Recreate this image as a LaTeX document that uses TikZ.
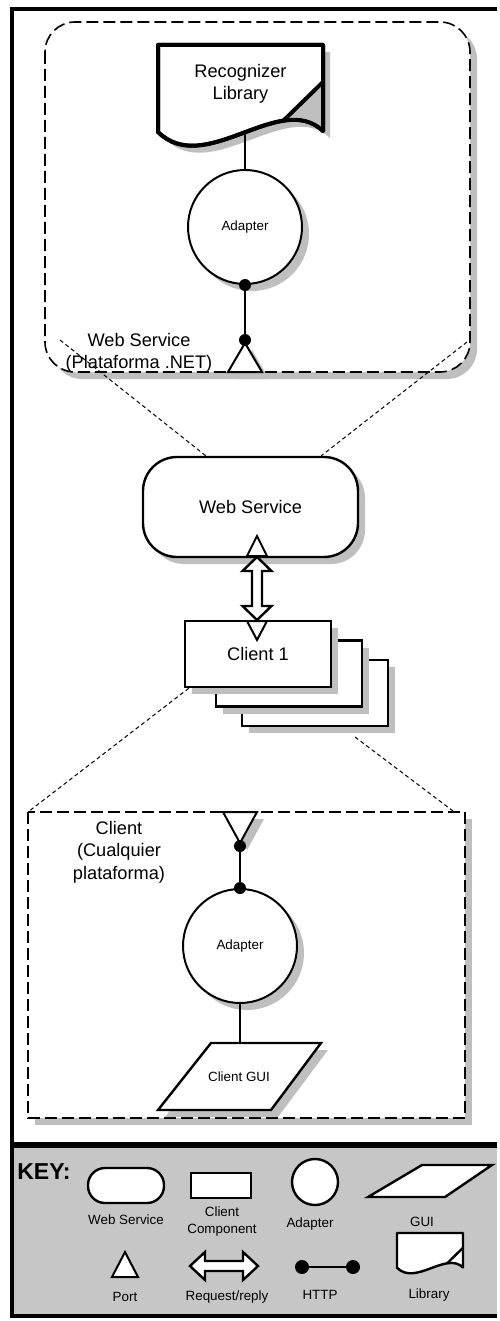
\documentclass[tikz,border=0pt]{standalone}
\usepackage{fontspec}
\setmainfont{Liberation Sans}
\usetikzlibrary{shadows}
\newcommand{\biglabel}{\fontsize{9.1}{11.2}\selectfont}
\newcommand{\smalllabel}{\fontsize{6.7}{8.3}\selectfont}

\begin{document}
\begin{tikzpicture}[
  x=0.5pt, y=-0.5pt,
  castshadow/.style={drop shadow={shadow xshift=3.5pt, shadow yshift=-3.5pt, fill=gray!50, opacity=1}},
  wsbox/.style={draw, line width=1.2pt, fill=white, rounded corners=17pt, minimum width=107.5pt, minimum height=50pt, font=\biglabel, castshadow},
  clientbox/.style={draw, line width=1.2pt, fill=white, minimum width=73pt, minimum height=33pt, font=\biglabel, castshadow},
  adapter/.style={draw, circle, line width=1pt, fill=white, minimum size=57pt, inner sep=0pt, font=\smalllabel, castshadow},
  httpdot/.style={circle, fill=black, inner sep=0pt, minimum size=6pt},
  portshape/.style={draw, line width=1pt, fill=white, line join=miter},
  link/.style={line width=1pt},
  libshape/.style={draw, line width=2pt, fill=white, line join=round},
  container/.style={draw, line width=0.8pt, dash pattern=on 6pt off 2.5pt, fill=white, castshadow},
  zoomline/.style={line width=0.5pt, dash pattern=on 2pt off 1.5pt},
  lab/.style={font=\biglabel, align=center},
  keylab/.style={font=\smalllabel, align=center}
]
\useasboundingbox (0,0) rectangle (499,1321);
\fill[white] (0,0) rectangle (499,1321);

% ---------- Upper frame: the web service side ----------
\draw[container, rounded corners=15pt] (45,22) rectangle (470,372);

% recognizer library
\draw[libshape, castshadow] (158,45) -- (323,45) -- (323,131) .. controls (280,90) and (205,178) .. (158,132) -- cycle;
\begin{scope}
  \clip (158,45) -- (323,45) -- (323,131) .. controls (280,90) and (205,178) .. (158,132) -- cycle;
  \fill[gray!50] (323,82) -- (283,121) -- (283,170) -- (340,170) -- (340,82) -- cycle;
\end{scope}
\draw[line width=2pt, line join=round] (158,45) -- (323,45) -- (323,131) .. controls (280,90) and (205,178) .. (158,132) -- cycle;
\draw[line width=2pt] (323,82) -- (283,121);
\node[lab] (reclib) at (240.5,84) {Recognizer\\Library};
\coordinate (libfoot) at (245,134);

% adapter and its port
\node[adapter] (wsadapter) at (245,227) {Adapter};
\draw[link] (libfoot) -- (wsadapter.north);
\draw[portshape, castshadow] (245,343) -- (262,372) -- (228,372) -- cycle;
\node[httpdot] (wsdotA) at (wsadapter.south) {};
\node[httpdot] (wsdotB) at (245,340) {};
\draw[link] (wsdotA) -- (wsdotB);
\node[lab] (wslabel) at (139,353) {Web Service\\(Plataforma .NET)};

% ---------- Middle: web service and clients ----------
\node[wsbox] (ws) at (250.5,507) {Web Service};
\coordinate (zoomTL) at (60,340);
\coordinate (zoomTR) at (467,342);
\draw[zoomline] (zoomTL) -- ([xshift=32pt]ws.north west);
\draw[zoomline] (zoomTR) -- ([xshift=-19pt]ws.north east);
\draw[portshape] (257,536) -- (267,556) -- (247,556) -- cycle;

% stacked clients
\node[clientbox] (client3) at (315,693) {};
\node[clientbox] (client2) at (289,673.5) {};
\node[clientbox] (client1) at (258,654) {Client 1};
\draw[portshape] (247,621) -- (267,621) -- (257,640) -- cycle;

% request/reply
\draw[line width=1.2pt, fill=white, line join=miter] (257,557) -- (271.5,571) -- (262,571) -- (262,606) -- (271.5,606) -- (257,620)
  -- (242.5,606) -- (252,606) -- (252,571) -- (242.5,571) -- cycle;

% ---------- Lower frame: the client side ----------
\draw[container] (28,812) rectangle (465,1118);
\coordinate (zoomBR) at (355,737);
\coordinate (zoomBRend) at (453,811);
\draw[zoomline] ([xshift=2.5pt]client1.south west) -- (28,812);
\draw[zoomline] (zoomBR) -- (zoomBRend);
\draw[portshape, castshadow] (223,812) -- (257,812) -- (240,843) -- cycle;
\node[adapter] (cladapter) at (240,946) {Adapter};
\node[httpdot] (cldotA) at (240,846) {};
\node[httpdot] (cldotB) at (cladapter.north) {};
\draw[link] (cldotA) -- (cldotB);
\coordinate (guitop) at (240,1043);
\draw[link] (cladapter) -- (guitop);
\draw[line width=1.2pt, fill=white, castshadow] (211,1043) -- (321,1043) -- (271,1110) -- (158,1110) -- cycle;
\node[font=\smalllabel] (gui) at (239,1077) {Client GUI};
\node[lab] (cllabel) at (119,852) {Client\\(Cualquier\\plataforma)};

% ---------- Key ----------
\fill[gray!45] (12,1146) rectangle (497,1315);
\draw[line width=3pt] (12,1145) -- (497,1145);
\draw[line width=2pt] (497,9.5) -- (12,9.5) -- (12,1316) -- (497,1316);

\node[font=\fontsize{11.5}{13}\selectfont\bfseries] (keytitle) at (44,1172) {KEY:};
\node[draw, line width=1.2pt, fill=white, rounded corners=8.5pt, minimum width=38pt, minimum height=17.5pt] (keyws) at (126,1185.5) {};
\node[keylab] at (126,1220) {Web Service};
\node[draw, line width=1.2pt, fill=white, minimum width=30pt, minimum height=12.5pt] (keyclient) at (221,1185.5) {};
\node[keylab] at (222,1221.5) {Client\\Component};
\node[draw, circle, line width=1.2pt, fill=white, minimum size=23pt, inner sep=0pt] (keyadapter) at (315,1182) {};
\node[keylab] at (310,1224) {Adapter};
\draw[line width=1.2pt, fill=white] (422,1165) -- (492,1165) -- (445,1197) -- (368,1197) -- cycle;
\node[keylab] at (422,1222) {GUI};

\draw[portshape] (125,1252) -- (138,1277) -- (112,1277) -- cycle;
\node[keylab] at (125,1297) {Port};
\draw[line width=1.2pt, fill=white, line join=miter] (190,1266) -- (205,1252) -- (205,1261) -- (243,1261) -- (243,1252) -- (258,1266)
  -- (243,1280) -- (243,1271) -- (205,1271) -- (205,1280) -- cycle;
\node[keylab] at (227,1297) {Request/reply};
\node[httpdot, minimum size=7pt] (keydotA) at (302,1267) {};
\node[httpdot, minimum size=7pt] (keydotB) at (353,1267) {};
\draw[link] (keydotA) -- (keydotB);
\node[keylab] at (320,1295) {HTTP};
\begin{scope}[shift={(333.8,1215)}, scale=0.4]
  \draw[line width=1.2pt, fill=white, line join=round] (158,45) -- (323,45) -- (323,131) .. controls (280,90) and (205,178) .. (158,132) -- cycle;
  \draw[line width=1.2pt] (323,82) -- (283,121);
\end{scope}
\node[keylab] at (429,1295) {Library};

\end{tikzpicture}
\end{document}
